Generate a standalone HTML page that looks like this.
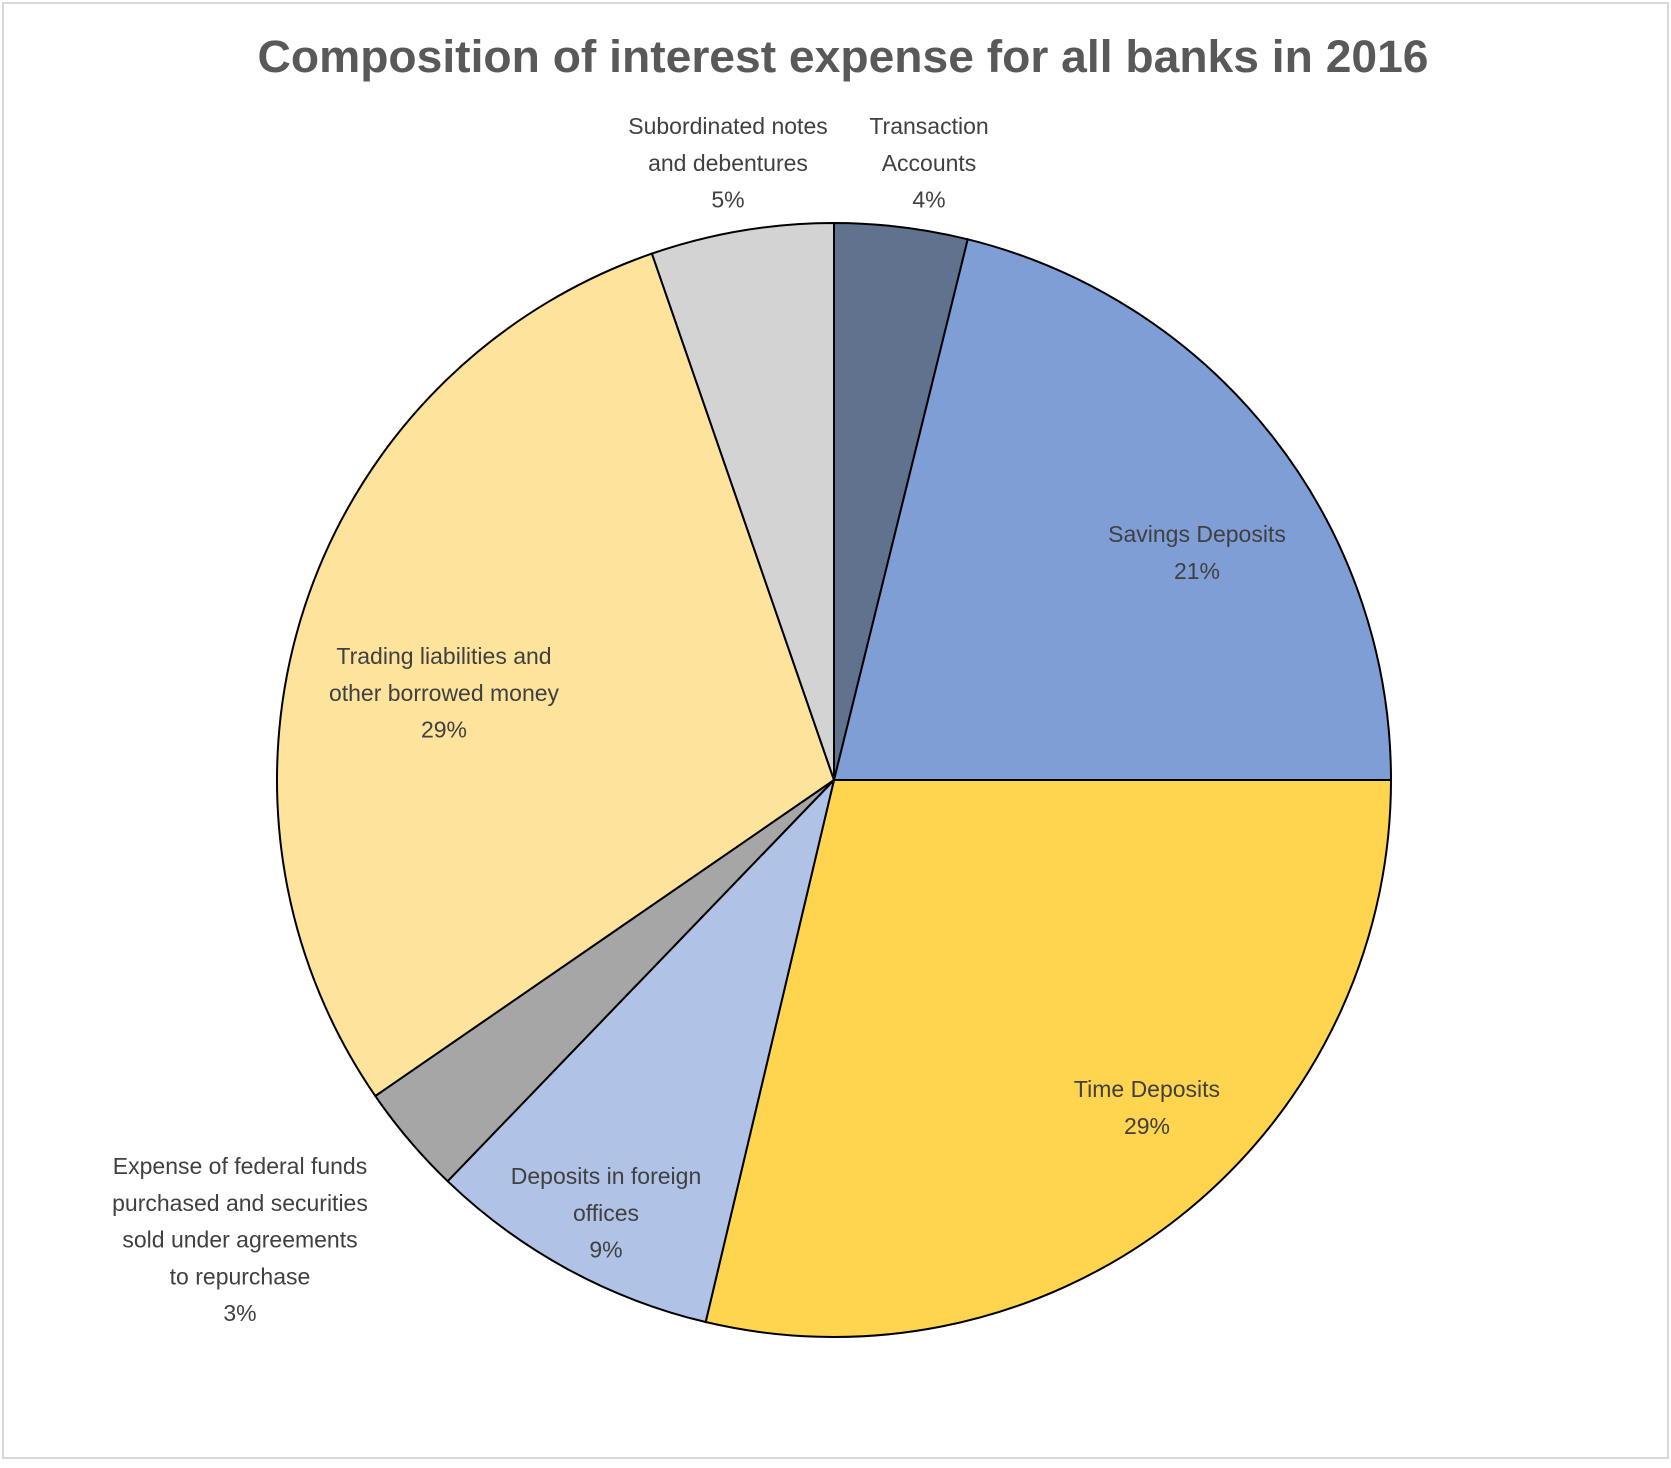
<!DOCTYPE html>
<html><head><meta charset="utf-8"><style>
body{margin:0;background:#fff;}
svg text{font-family:"Liberation Sans",sans-serif;}
</style></head><body>
<svg width="1671" height="1463" viewBox="0 0 1671 1463">
<rect x="3" y="3" width="1665" height="1455" fill="#fff" stroke="#d9d9d9" stroke-width="2"/>
<text x="843" y="72" text-anchor="middle" font-size="45" font-weight="bold" fill="#595959" textLength="1171" lengthAdjust="spacingAndGlyphs">Composition of interest expense for all banks in 2016</text>
<g id="slices"></g>
<g id="labels" font-size="23" fill="#404040" text-anchor="middle"></g>
</svg>
<script>
const categories=["Transaction Accounts","Savings Deposits","Time Deposits","Deposits in foreign offices","Expense of federal funds purchased and securities sold under agreements to repurchase","Trading liabilities and other borrowed money","Subordinated notes and debentures"];
const values=[3.86,21.14,28.7,8.5,3.2,29.3,5.3];
const pctLabels=["4%","21%","29%","9%","3%","29%","5%"];
const labelLines=[["Transaction","Accounts"],["Savings Deposits"],["Time Deposits"],["Deposits in foreign","offices"],["Expense of federal funds","purchased and securities","sold under agreements","to repurchase"],["Trading liabilities and","other borrowed money"],["Subordinated notes","and debentures"]];
const colors=["#61728f","#7f9ed6","#ffd44f","#b0c3e6","#a6a6a6","#fde39c","#d3d3d3"];
const labelPos=[[929,126],[1197,534],[1147,1089],[606,1176],[240,1166],[444,656],[728,126]];
const cx=834,cy=780,r=557;
const NS="http://www.w3.org/2000/svg";
const total=values.reduce((a,b)=>a+b,0);
function pt(frac){const a=frac*2*Math.PI;return [cx+r*Math.sin(a),cy-r*Math.cos(a)];}
let acc=0;
const g=document.getElementById('slices'),lg=document.getElementById('labels');
values.forEach((v,i)=>{
  const s=acc/total;acc+=v;const e=acc/total;
  const [x1,y1]=pt(s),[x2,y2]=pt(e);
  const p=document.createElementNS(NS,'path');
  p.setAttribute('d',`M${cx},${cy}L${x1},${y1}A${r},${r} 0 ${e-s>0.5?1:0} 1 ${x2},${y2}Z`);
  p.setAttribute('fill',colors[i]);p.setAttribute('stroke','#000');p.setAttribute('stroke-width','2');
  
  
  g.appendChild(p);
  const t=document.createElementNS(NS,'text');
  
  
  const lines=labelLines[i].concat([pctLabels[i]]);
  lines.forEach((ln,j)=>{const ts=document.createElementNS(NS,'tspan');ts.setAttribute('x',labelPos[i][0]);ts.setAttribute('y',labelPos[i][1]+8+j*36.8);ts.textContent=ln;t.appendChild(ts);});
  lg.appendChild(t);
});
</script>
</body></html>
